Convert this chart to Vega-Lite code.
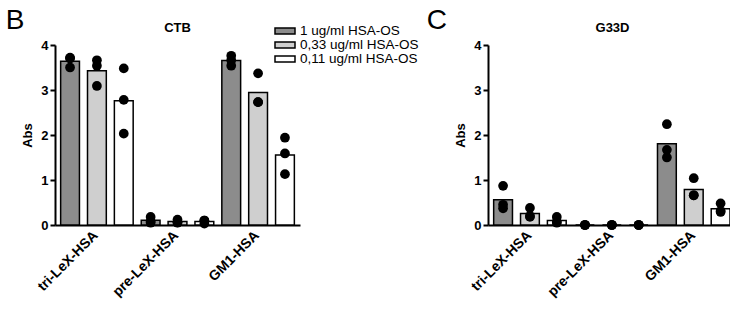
{
  "$schema": "https://vega.github.io/schema/vega-lite/v6.json",
  "background": "white",
  "padding": {"left": 5, "top": 7, "right": 4, "bottom": 5},
  "spacing": 7,
  "config": {
    "view": {"stroke": null},
    "font": "Liberation Sans",
    "axis": {"domainColor": "black", "domainWidth": 2, "tickColor": "black", "tickWidth": 2, "labelColor": "black", "labelFontWeight": "bold", "labelFontSize": 13, "titleFontWeight": "bold", "titleFontSize": 13, "titleColor": "black", "grid": false, "labelFont": "Liberation Sans", "titleFont": "Liberation Sans"},
    "title": {"font": "Liberation Sans", "fontSize": 28, "fontWeight": "normal", "color": "black", "anchor": "start", "frame": "bounds", "offset": -13}
  },
  "datasets": {
    "pts": [
      {"panel": "CTB", "group": "tri-LeX-HSA", "conc": "1 ug/ml HSA-OS", "value": 3.72},
      {"panel": "CTB", "group": "tri-LeX-HSA", "conc": "1 ug/ml HSA-OS", "value": 3.70},
      {"panel": "CTB", "group": "tri-LeX-HSA", "conc": "1 ug/ml HSA-OS", "value": 3.50},
      {"panel": "CTB", "group": "tri-LeX-HSA", "conc": "0,33 ug/ml HSA-OS", "value": 3.66},
      {"panel": "CTB", "group": "tri-LeX-HSA", "conc": "0,33 ug/ml HSA-OS", "value": 3.54},
      {"panel": "CTB", "group": "tri-LeX-HSA", "conc": "0,33 ug/ml HSA-OS", "value": 3.09},
      {"panel": "CTB", "group": "tri-LeX-HSA", "conc": "0,11 ug/ml HSA-OS", "value": 3.48},
      {"panel": "CTB", "group": "tri-LeX-HSA", "conc": "0,11 ug/ml HSA-OS", "value": 2.78},
      {"panel": "CTB", "group": "tri-LeX-HSA", "conc": "0,11 ug/ml HSA-OS", "value": 2.03},
      {"panel": "CTB", "group": "pre-LeX-HSA", "conc": "1 ug/ml HSA-OS", "value": 0.18},
      {"panel": "CTB", "group": "pre-LeX-HSA", "conc": "1 ug/ml HSA-OS", "value": 0.05},
      {"panel": "CTB", "group": "pre-LeX-HSA", "conc": "1 ug/ml HSA-OS", "value": 0.08},
      {"panel": "CTB", "group": "pre-LeX-HSA", "conc": "0,33 ug/ml HSA-OS", "value": 0.12},
      {"panel": "CTB", "group": "pre-LeX-HSA", "conc": "0,33 ug/ml HSA-OS", "value": 0.05},
      {"panel": "CTB", "group": "pre-LeX-HSA", "conc": "0,33 ug/ml HSA-OS", "value": 0.06},
      {"panel": "CTB", "group": "pre-LeX-HSA", "conc": "0,11 ug/ml HSA-OS", "value": 0.10},
      {"panel": "CTB", "group": "pre-LeX-HSA", "conc": "0,11 ug/ml HSA-OS", "value": 0.03},
      {"panel": "CTB", "group": "pre-LeX-HSA", "conc": "0,11 ug/ml HSA-OS", "value": 0.10},
      {"panel": "CTB", "group": "GM1-HSA", "conc": "1 ug/ml HSA-OS", "value": 3.76},
      {"panel": "CTB", "group": "GM1-HSA", "conc": "1 ug/ml HSA-OS", "value": 3.66},
      {"panel": "CTB", "group": "GM1-HSA", "conc": "1 ug/ml HSA-OS", "value": 3.54},
      {"panel": "CTB", "group": "GM1-HSA", "conc": "0,33 ug/ml HSA-OS", "value": 3.37},
      {"panel": "CTB", "group": "GM1-HSA", "conc": "0,33 ug/ml HSA-OS", "value": 2.73},
      {"panel": "CTB", "group": "GM1-HSA", "conc": "0,33 ug/ml HSA-OS", "value": 2.73},
      {"panel": "CTB", "group": "GM1-HSA", "conc": "0,11 ug/ml HSA-OS", "value": 1.94},
      {"panel": "CTB", "group": "GM1-HSA", "conc": "0,11 ug/ml HSA-OS", "value": 1.59},
      {"panel": "CTB", "group": "GM1-HSA", "conc": "0,11 ug/ml HSA-OS", "value": 1.13},
      {"panel": "G33D", "group": "tri-LeX-HSA", "conc": "1 ug/ml HSA-OS", "value": 0.87},
      {"panel": "G33D", "group": "tri-LeX-HSA", "conc": "1 ug/ml HSA-OS", "value": 0.45},
      {"panel": "G33D", "group": "tri-LeX-HSA", "conc": "1 ug/ml HSA-OS", "value": 0.37},
      {"panel": "G33D", "group": "tri-LeX-HSA", "conc": "0,33 ug/ml HSA-OS", "value": 0.38},
      {"panel": "G33D", "group": "tri-LeX-HSA", "conc": "0,33 ug/ml HSA-OS", "value": 0.20},
      {"panel": "G33D", "group": "tri-LeX-HSA", "conc": "0,33 ug/ml HSA-OS", "value": 0.18},
      {"panel": "G33D", "group": "tri-LeX-HSA", "conc": "0,11 ug/ml HSA-OS", "value": 0.18},
      {"panel": "G33D", "group": "tri-LeX-HSA", "conc": "0,11 ug/ml HSA-OS", "value": 0.07},
      {"panel": "G33D", "group": "tri-LeX-HSA", "conc": "0,11 ug/ml HSA-OS", "value": 0.05},
      {"panel": "G33D", "group": "pre-LeX-HSA", "conc": "1 ug/ml HSA-OS", "value": 0.0},
      {"panel": "G33D", "group": "pre-LeX-HSA", "conc": "1 ug/ml HSA-OS", "value": 0.0},
      {"panel": "G33D", "group": "pre-LeX-HSA", "conc": "1 ug/ml HSA-OS", "value": 0.0},
      {"panel": "G33D", "group": "pre-LeX-HSA", "conc": "0,33 ug/ml HSA-OS", "value": 0.0},
      {"panel": "G33D", "group": "pre-LeX-HSA", "conc": "0,33 ug/ml HSA-OS", "value": 0.0},
      {"panel": "G33D", "group": "pre-LeX-HSA", "conc": "0,33 ug/ml HSA-OS", "value": 0.0},
      {"panel": "G33D", "group": "pre-LeX-HSA", "conc": "0,11 ug/ml HSA-OS", "value": 0.0},
      {"panel": "G33D", "group": "pre-LeX-HSA", "conc": "0,11 ug/ml HSA-OS", "value": 0.0},
      {"panel": "G33D", "group": "pre-LeX-HSA", "conc": "0,11 ug/ml HSA-OS", "value": 0.0},
      {"panel": "G33D", "group": "GM1-HSA", "conc": "1 ug/ml HSA-OS", "value": 2.24},
      {"panel": "G33D", "group": "GM1-HSA", "conc": "1 ug/ml HSA-OS", "value": 1.67},
      {"panel": "G33D", "group": "GM1-HSA", "conc": "1 ug/ml HSA-OS", "value": 1.50},
      {"panel": "G33D", "group": "GM1-HSA", "conc": "0,33 ug/ml HSA-OS", "value": 1.04},
      {"panel": "G33D", "group": "GM1-HSA", "conc": "0,33 ug/ml HSA-OS", "value": 0.66},
      {"panel": "G33D", "group": "GM1-HSA", "conc": "0,33 ug/ml HSA-OS", "value": 0.66},
      {"panel": "G33D", "group": "GM1-HSA", "conc": "0,11 ug/ml HSA-OS", "value": 0.48},
      {"panel": "G33D", "group": "GM1-HSA", "conc": "0,11 ug/ml HSA-OS", "value": 0.31},
      {"panel": "G33D", "group": "GM1-HSA", "conc": "0,11 ug/ml HSA-OS", "value": 0.29}
    ]
  },
  "resolve": {"scale": {"fill": "independent"}, "legend": {"fill": "independent"}},
  "hconcat": [
    {
      "title": {"text": "B", "dx": -16},
      "width": 245,
      "height": 180,
      "encoding": {
        "x": {"field": "group", "type": "nominal", "sort": ["tri-LeX-HSA", "pre-LeX-HSA", "GM1-HSA"], "scale": {"paddingInner": 0, "paddingOuter": 0.02}, "axis": {"title": null, "labelAngle": -45, "ticks": false, "labelPadding": 3, "labelOffset": -6, "labelFontSize": 14}},
        "y": {"type": "quantitative", "scale": {"domain": [0, 4], "nice": false}, "axis": {"title": "Abs", "values": [0, 1, 2, 3, 4], "tickSize": 5, "labelPadding": 2, "titlePadding": 6}}
      },
      "layer": [
        {
          "data": {"name": "pts"},
          "transform": [{"filter": "datum.panel == 'CTB'"}],
          "mark": {"type": "bar", "stroke": "black", "strokeWidth": 1.5},
          "encoding": {
            "xOffset": {"field": "conc", "type": "nominal", "sort": ["1 ug/ml HSA-OS", "0,33 ug/ml HSA-OS", "0,11 ug/ml HSA-OS"], "scale": {"paddingInner": 0.3, "paddingOuter": 0.15}},
            "y": {"aggregate": "mean", "field": "value", "type": "quantitative"},
            "fill": {"field": "conc", "type": "nominal", "scale": {"domain": ["1 ug/ml HSA-OS", "0,33 ug/ml HSA-OS", "0,11 ug/ml HSA-OS"], "range": ["#8c8c8c", "#cfcfcf", "#ffffff"]},
              "legend": {"title": null, "orient": "none", "legendX": 219, "legendY": -21, "symbolType": "M-1,-0.3H1V0.3H-1Z", "symbolSize": 400, "symbolStrokeColor": "black", "symbolStrokeWidth": 1.5, "labelFontSize": 13.5, "labelFont": "Liberation Sans", "labelColor": "black", "labelOffset": 4, "rowPadding": 0, "clipHeight": 14, "padding": 0}}
          }
        },
        {
          "data": {"name": "pts"},
          "transform": [{"filter": "datum.panel == 'CTB'"}],
          "mark": {"type": "circle", "size": 95, "color": "black", "opacity": 1},
          "encoding": {
            "xOffset": {"field": "conc", "type": "nominal", "sort": ["1 ug/ml HSA-OS", "0,33 ug/ml HSA-OS", "0,11 ug/ml HSA-OS"]},
            "y": {"field": "value", "type": "quantitative"}
          }
        },
        {
          "data": {"values": [{"label": "CTB", "group": "pre-LeX-HSA", "pos": 4.37}]},
          "mark": {"type": "text", "fontWeight": "bold", "fontSize": 13, "font": "Liberation Sans", "color": "black"},
          "encoding": {
            "y": {"field": "pos", "type": "quantitative"},
            "text": {"field": "label"}
          }
        }
      ]
    },
    {
      "title": {"text": "C", "dx": -28},
      "width": 249,
      "height": 180,
      "encoding": {
        "x": {"field": "group", "type": "nominal", "sort": ["tri-LeX-HSA", "pre-LeX-HSA", "GM1-HSA"], "scale": {"paddingInner": 0, "paddingOuter": 0.02}, "axis": {"title": null, "labelAngle": -45, "ticks": false, "labelPadding": 3, "labelOffset": -6, "labelFontSize": 14}},
        "y": {"type": "quantitative", "scale": {"domain": [0, 4], "nice": false}, "axis": {"title": "Abs", "values": [0, 1, 2, 3, 4], "tickSize": 5, "labelPadding": 2, "titlePadding": 6}}
      },
      "layer": [
        {
          "data": {"name": "pts"},
          "transform": [{"filter": "datum.panel == 'G33D'"}],
          "mark": {"type": "bar", "stroke": "black", "strokeWidth": 1.5},
          "encoding": {
            "xOffset": {"field": "conc", "type": "nominal", "sort": ["1 ug/ml HSA-OS", "0,33 ug/ml HSA-OS", "0,11 ug/ml HSA-OS"], "scale": {"paddingInner": 0.3, "paddingOuter": 0.15}},
            "y": {"aggregate": "mean", "field": "value", "type": "quantitative"},
            "fill": {"field": "conc", "type": "nominal", "scale": {"domain": ["1 ug/ml HSA-OS", "0,33 ug/ml HSA-OS", "0,11 ug/ml HSA-OS"], "range": ["#8c8c8c", "#cfcfcf", "#ffffff"]}, "legend": null}
          }
        },
        {
          "data": {"name": "pts"},
          "transform": [{"filter": "datum.panel == 'G33D'"}],
          "mark": {"type": "circle", "size": 95, "color": "black", "opacity": 1},
          "encoding": {
            "xOffset": {"field": "conc", "type": "nominal", "sort": ["1 ug/ml HSA-OS", "0,33 ug/ml HSA-OS", "0,11 ug/ml HSA-OS"]},
            "y": {"field": "value", "type": "quantitative"}
          }
        },
        {
          "data": {"values": [{"label": "G33D", "group": "pre-LeX-HSA", "pos": 4.37}]},
          "mark": {"type": "text", "fontWeight": "bold", "fontSize": 13, "font": "Liberation Sans", "color": "black"},
          "encoding": {
            "y": {"field": "pos", "type": "quantitative"},
            "text": {"field": "label"}
          }
        }
      ]
    }
  ]
}
